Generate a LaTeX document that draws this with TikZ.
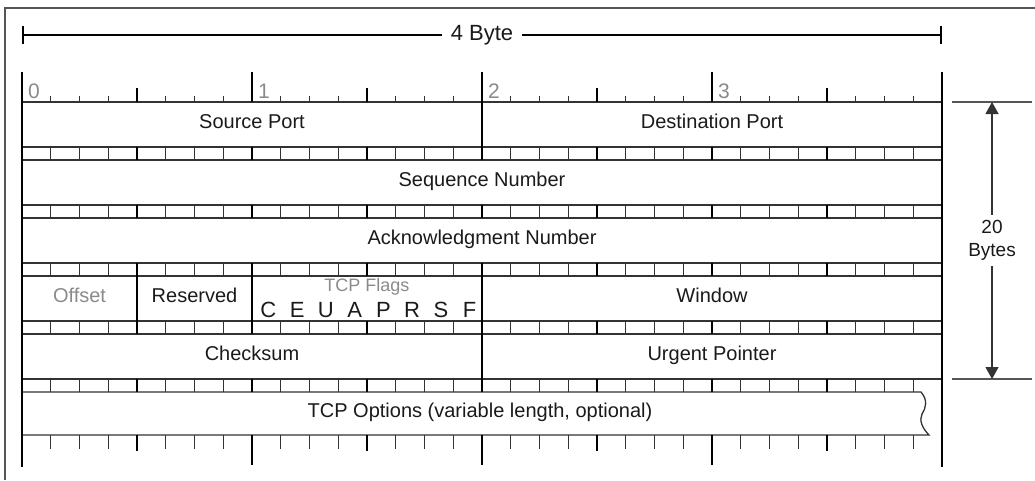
\documentclass[tikz,border=0pt]{standalone}
\usepackage{fontspec}
\setmainfont{Liberation Sans}
\usetikzlibrary{arrows.meta, positioning, calc}
\definecolor{lineDark}{HTML}{333333}
\definecolor{frameGray}{HTML}{555555}
\definecolor{txtGray}{HTML}{8A8A8A}
\definecolor{txtDark}{HTML}{1A1A1A}
\tikzset{
  frameLine/.style={draw=frameGray, line width=1.6pt},
  hLine/.style={draw=lineDark, line width=1.3pt},
  borderV/.style={draw=black, line width=2.6pt},
  divLine/.style={draw=black, line width=1.3pt},
  tickBit/.style={draw=lineDark, line width=1.1pt},
  tickNib/.style={draw=black, line width=2.2pt},
  tickByte/.style={draw=black, line width=2.6pt},
  widthDim/.style={{Bar[width=18pt]}-{Bar[width=18pt]}, draw=black, line width=1.8pt},
  heightDim/.style={{Triangle[length=12pt,width=13pt]}-{Triangle[length=12pt,width=13pt]},
                    draw=lineDark, line width=1.2pt},
  hRef/.style={draw=frameGray, line width=1.2pt},
  fieldTxt/.style={text=txtDark, inner sep=0pt, text height=0.72em, text depth=0pt,
                   font=\fontsize{20}{23}\selectfont},
  grayTxt/.style={fieldTxt, text=txtGray},
  flagTxt/.style={text=txtDark, inner sep=0pt, anchor=base, font=\fontsize{22}{24}\selectfont},
  byteNum/.style={text=txtGray, inner sep=0pt, anchor=base west, font=\fontsize{21}{23}\selectfont},
}
\begin{document}
\begin{tikzpicture}[x=1pt, y=-1pt, font=\fontsize{20}{23}\selectfont]
  \useasboundingbox (0,0) rectangle (1035,480);
  % outer frame
  \draw[frameLine] (5,480) -- (5,8) -- (1035,8);

  % 4 Byte width
  \coordinate (wL) at (22,35);
  \coordinate (wR) at (942,35);
  \draw[widthDim] (wL) -- (wR)
    node[midway, fill=white, text=txtDark, inner xsep=9pt, font=\fontsize{22}{24}\selectfont] (wlbl) {4 Byte};

  % horizontal lines of the rows
  \foreach \y in {102,147,160,205,218,263,276,321,334,379}
    \draw[hLine] (22,\y) -- (942,\y);
  \draw[hLine] (22,392) -- (921,392) .. controls (928,400) and (926,408) .. (922,414)
    .. controls (919,420) and (922,428) .. (929,435) -- (22,435);

  % ruler, strips and bottom ticks
  \foreach \i in {1,...,31} {
    \pgfmathsetmacro{\xx}{22+\i*28.75}
    \pgfmathtruncatemacro{\nib}{mod(\i,4)}
    \pgfmathtruncatemacro{\byt}{mod(\i,8)}
    \ifnum\byt=0
      \draw[tickByte] (\xx,72) -- (\xx,102);
      \draw[tickByte] (\xx,435) -- (\xx,465);
    \else\ifnum\nib=0
      \draw[tickNib] (\xx,88) -- (\xx,102);
      \draw[tickNib] (\xx,435) -- (\xx,451);
    \else
      \draw[tickBit] (\xx,96) -- (\xx,102);
      \draw[tickBit] (\xx,435) -- (\xx,449);
    \fi\fi
    \foreach \r in {147,205,263,321,379} {
      \ifnum\nib=0 \draw[tickNib] (\xx,\r) -- ++(0,13);
      \else \draw[tickBit] (\xx,\r) -- ++(0,13); \fi
    }
  }
  \draw[borderV] (22,72) -- (22,467);
  \draw[borderV] (942,72) -- (942,467);

  % field dividers
  \draw[divLine] (482,102) -- (482,147);
  \draw[divLine] (137,276) -- (137,321);
  \draw[tickNib] (252,276) -- (252,321);
  \draw[tickNib] (482,276) -- (482,321);
  \draw[divLine] (482,334) -- (482,379);

  % byte numbers
  \foreach \b in {0,...,3}
    \node[byteNum] (byte\b) at ({28+\b*230},98) {\b};

  % fields
  \node[fieldTxt] (src) at (252,124.5) {Source Port};
  \node[fieldTxt] (dst) at (712,124.5) {Destination Port};
  \node[fieldTxt] (seq) at (482,182.5) {Sequence Number};
  \node[fieldTxt] (ack) at (482,240.5) {Acknowledgment Number};
  \node[grayTxt] (off) at (79.5,298.5) {Offset};
  \node[fieldTxt] (rsv) at (194.5,298.5) {Reserved};
  \node[grayTxt, font=\fontsize{18}{20}\selectfont] (flg) at (367,288) {TCP Flags};
  \foreach \f [count=\n from 8] in {C,E,U,A,P,R,S,F}
    \node[flagTxt] (flag\n) at ({22+(\n+0.5)*28.75+2},317) {\f};
  \node[fieldTxt] (win) at (712,298.5) {Window};
  \node[fieldTxt] (chk) at (252,356.5) {Checksum};
  \node[fieldTxt] (urg) at (712,356.5) {Urgent Pointer};
  \node[fieldTxt] (opt) at (480,413.5) {TCP Options (variable length, optional)};

  % 20 Bytes height
  \draw[hRef] (952,102) -- (1032,102);
  \draw[hRef] (952,379) -- (1032,379);
  \coordinate (hT) at (992,102);
  \coordinate (hB) at (992,379);
  \draw[heightDim] (hT) -- (hB)
    node[midway, fill=white, align=center, text=txtDark, inner sep=5pt,
         font=\fontsize{19}{23}\selectfont] (hlbl) {20\\Bytes};
\end{tikzpicture}
\end{document}
